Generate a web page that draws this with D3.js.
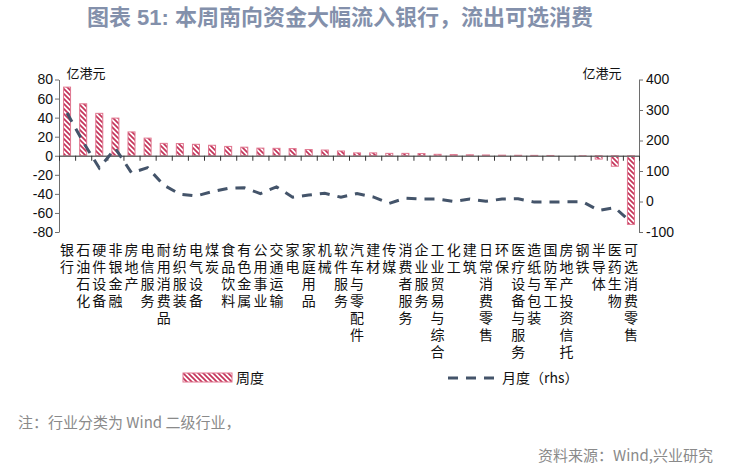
<!DOCTYPE html>
<html lang="zh-CN">
<head>
<meta charset="utf-8">
<script src="https://cdn.jsdelivr.net/npm/d3@7"></script>
<style>
  html, body { margin: 0; padding: 0; background: #fff; }
  svg { display: block; }
</style>
</head>
<body>
<svg id="chart" width="734" height="468"></svg>
<script>
const categories = ["银行","石油石化","硬件设备","非银金融","房地产","电信服务","耐用消费品","纺织服装","电气设备","煤炭",
  "食品饮料","有色金属","公用事业","交通运输","家电","家庭用品","机械","软件服务","汽车与零配件","建材",
  "传媒","消费者服务","企业服务","工业贸易与综合","化工","建筑","日常消费零售","环保","医疗设备与服务","造纸与包装",
  "国防军工","房地产投资信托","钢铁","半导体","医药生物","可选消费零售"];
const weekly = [72, 54.5, 44.5, 39.5, 25, 18.5, 13, 12.8, 12, 11, 9.8, 9, 8, 7.8, 7.5, 6.5, 6, 5, 3, 3,
  2.5, 2.5, 2.3, 1.5, 1.2, 1, 0.8, 0.6, 0.5, 0.4, 0.3, 0, -0.3, -3.5, -11, -72];
const monthly = [290, 195, 110, 174, 94, 111, 54, 24, 18, 32, 43, 45, 26, 48, 14, 21, 27, 14, 26, 15,
  -6, 11, 8, 8, 0, 8, 1, 8, 9, -2, -2, -1, -1, -29, -20, -68];
const leftTicks = [-80, -60, -40, -20, 0, 20, 40, 60, 80];
const rightTicks = [-100, 0, 100, 200, 300, 400];
const title = "图表 51: 本周南向资金大幅流入银行，流出可选消费";
const unitLabel = "亿港元";
const legendWeekly = "周度";
const legendMonthly = "月度（rhs）";
const note = "注：行业分类为 Wind 二级行业，";
const source = "资料来源：Wind,兴业研究";

(function () {
const svg = d3.select("#chart");
const cjk = "'Noto Sans CJK SC', 'Noto Sans', sans-serif";
const cjkTight = "'Liberation Sans', 'Noto Sans CJK SC', sans-serif";
const latin = "'Liberation Sans', Arial, sans-serif";
const barRed = "#c4345a";
const lineBlue = "#44546a";
const axisGray = "#6e6e6e";

const defs = svg.append("defs");
const pat = defs.append("pattern").attr("id", "hatch")
  .attr("patternUnits", "userSpaceOnUse").attr("width", 5).attr("height", 5);
pat.append("rect").attr("width", 5).attr("height", 5).attr("fill", "#fff");
pat.append("path").attr("d", "M-1,-1 L6,6 M-1,4 L1,6 M4,-1 L6,1")
  .attr("stroke", barRed).attr("stroke-width", 1.7);

const pLeft = 59, pRight = 639, pTop = 79.5, pBottom = 232;
const x = d3.scaleBand().domain(categories).range([pLeft, pRight]).padding(0);
const xIdx = d3.scaleLinear().domain([0, categories.length]).range([pLeft, pRight]);
const yL = d3.scaleLinear().domain([-80, 80]).range([pBottom, pTop]);
const yR = d3.scaleLinear().domain([-100, 400]).range([pBottom, pTop]);

svg.append("text").attr("x", 340).attr("y", 25).attr("text-anchor", "middle")
  .attr("font-family", cjkTight).attr("font-weight", "bold").attr("font-size", 22)
  .attr("fill", "#8390ab").text(title);

const gL = svg.append("g").attr("transform", `translate(${pLeft},0)`)
  .call(d3.axisLeft(yL).tickValues(leftTicks).tickSize(4).tickSizeOuter(0).tickFormat(d => String(d)));
gL.select(".domain").attr("stroke", axisGray);
gL.selectAll(".tick line").attr("stroke", axisGray);
gL.selectAll(".tick text").attr("font-family", latin).attr("font-size", 14).attr("fill", "#111").attr("x", -6);

const gR = svg.append("g").attr("transform", `translate(${pRight},0)`)
  .call(d3.axisRight(yR).tickValues(rightTicks).tickSize(4).tickSizeOuter(0).tickFormat(d => String(d)));
gR.select(".domain").attr("stroke", axisGray);
gR.selectAll(".tick line").attr("stroke", axisGray);
gR.selectAll(".tick text").attr("font-family", latin).attr("font-size", 14).attr("fill", "#111").attr("x", 7);

const bw = 7;
svg.append("g").selectAll("rect").data(categories).join("rect")
  .attr("x", (d) => x(d) + x.bandwidth() / 2 - bw / 2)
  .attr("y", (d, i) => Math.min(yL(weekly[i]), yL(0)))
  .attr("width", bw)
  .attr("height", (d, i) => Math.abs(yL(weekly[i]) - yL(0)))
  .attr("fill", "url(#hatch)")
  .attr("stroke", "#e0768f").attr("stroke-width", 1);

const gX = svg.append("g").attr("transform", `translate(0,${yL(0)})`)
  .call(d3.axisBottom(xIdx).tickValues(d3.range(0, categories.length + 1)).tickSize(5).tickSizeOuter(0).tickFormat(""));
gX.select(".domain").attr("stroke", axisGray).attr("stroke-width", 1.5);
gX.selectAll(".tick line").attr("stroke", "#333");

const line = d3.line()
  .x((d, i) => x(categories[i]) + x.bandwidth() / 2)
  .y(d => yR(d));
svg.append("path").datum(monthly).attr("d", line)
  .attr("fill", "none").attr("stroke", lineBlue).attr("stroke-width", 3)
  .attr("stroke-dasharray", "10,8");

svg.append("text").attr("x", 86).attr("y", 78).attr("text-anchor", "middle")
  .attr("font-family", cjk).attr("font-size", 13).attr("fill", "#111").text(unitLabel);
svg.append("text").attr("x", 602).attr("y", 78).attr("text-anchor", "middle")
  .attr("font-family", cjk).attr("font-size", 13).attr("fill", "#111").text(unitLabel);

const lab = svg.append("g");
categories.forEach((c) => {
  Array.from(c).forEach((ch, j) => {
    lab.append("text").attr("font-family", cjkTight).attr("font-size", 14)
      .attr("fill", "#111").attr("text-anchor", "middle")
      .attr("x", x(c) + x.bandwidth() / 2).attr("y", 255 + j * 17).text(ch);
  });
});

svg.append("rect").attr("x", 183).attr("y", 373).attr("width", 49).attr("height", 9)
  .attr("fill", "url(#hatch)").attr("stroke", "#e0768f").attr("stroke-width", 1);
svg.append("text").attr("x", 236).attr("y", 383).attr("font-family", cjk).attr("font-size", 14)
  .attr("fill", "#111").text(legendWeekly);
svg.append("line").attr("x1", 448).attr("x2", 496).attr("y1", 378).attr("y2", 378)
  .attr("stroke", lineBlue).attr("stroke-width", 3).attr("stroke-dasharray", "10,8");
svg.append("text").attr("x", 502).attr("y", 383).attr("font-family", cjk).attr("font-size", 14)
  .attr("fill", "#111").text(legendMonthly);

svg.append("text").attr("x", 18).attr("y", 428).attr("font-family", cjk).attr("font-size", 15)
  .attr("fill", "#8a8a8a").text(note);
svg.append("text").attr("x", 713).attr("y", 461).attr("text-anchor", "end").attr("font-family", cjk)
  .attr("font-size", 15).attr("fill", "#8a8a8a").text(source);
})();
</script>
</body>
</html>
